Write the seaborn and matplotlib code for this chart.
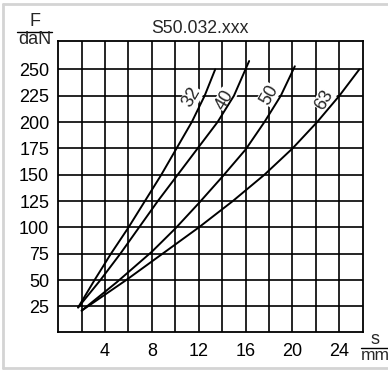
import pandas as pd
import matplotlib
matplotlib.use("Agg")
import matplotlib.pyplot as plt
import seaborn as sns
from matplotlib.lines import Line2D

# ---- data (stroke s in mm, force F in daN) ----
s_32 = [1.7, 3.1, 4.5, 6.0, 7.4, 8.8, 10.1, 11.4, 12.5, 13.4]
f_32 = [24, 50, 75, 100, 125, 150, 175, 200, 225, 250]

s_40 = [1.7, 3.6, 5.3, 6.9, 8.5, 10.2, 11.9, 13.6, 15.0, 16.3]
f_40 = [24, 50, 75, 100, 125, 150, 175, 200, 225, 258]

s_50 = [2.0, 5.0, 8.0, 10.0, 12.0, 14.0, 16.0, 17.6, 19.0, 20.2]
f_50 = [21, 48, 77, 99, 123, 148, 174, 200, 225, 253]

s_63 = [2.0, 5.8, 8.9, 12.0, 14.9, 17.6, 20.0, 22.1, 24.0, 25.7]
f_63 = [21, 50, 75, 100, 125, 150, 175, 200, 225, 250]

sizes = ["32", "40", "50", "63"]
# where each curve label sits (s, F)
label_s = [11.4, 14.2, 18.0, 22.7]
label_f = [224, 221, 226, 221]

x_ticks = [4, 8, 12, 16, 20, 24]
y_ticks = [25, 50, 75, 100, 125, 150, 175, 200, 225, 250]
x_grid = list(range(2, 26, 2))

title = "S50.032.xxx"

# ---- long-form table for seaborn ----
frames = []
for name, s, f in zip(sizes, [s_32, s_40, s_50, s_63], [f_32, f_40, f_50, f_63]):
    frames.append(pd.DataFrame({"s": s, "F": f, "size": name}))
df = pd.concat(frames, ignore_index=True)

sns.set_style("white")
plt.rcParams["font.family"] = ["Liberation Sans", "DejaVu Sans"]

fig = plt.figure(figsize=(3.88, 3.72), dpi=100)
ax = fig.add_axes([0.150, 0.1083, 0.785, 0.7815])

# grid first, so curves sit on top
for x in x_grid:
    ax.axvline(x, color="black", lw=1.2, zorder=1)
for y in y_ticks:
    ax.axhline(y, color="black", lw=1.2, zorder=1)

sns.lineplot(data=df, x="s", y="F", hue="size", units="size", estimator=None,
             sort=False, palette=["black"] * 4, lw=1.4, legend=False, ax=ax, zorder=3)

for name, s, f in zip(sizes, label_s, label_f):
    ax.text(s, f, name, rotation=60, ha="center", va="center", fontsize=13,
            bbox=dict(facecolor="white", edgecolor="none", pad=0.3), zorder=2)

ax.set_xlim(0, 26)
ax.set_ylim(1, 277)
ax.set_xticks(x_ticks)
ax.set_yticks(y_ticks)
ax.tick_params(axis="both", direction="out", length=5, width=1.1, colors="black",
               labelsize=13, pad=1.5)
ax.tick_params(axis="x", pad=3)
ax.set_xlabel("")
ax.set_ylabel("")
for sp in ax.spines.values():
    sp.set_color("black")
    sp.set_linewidth(1.3)
    sp.set_visible(True)

ax.text(0.466, 1.042, title, transform=ax.transAxes, ha="center", va="center",
        fontsize=12.7)

# unit fractions F/daN and s/mm
fig.text(35 / 388, 1 - 22 / 372, "F", ha="center", va="center", fontsize=13)
fig.text(35 / 388, 1 - 40 / 372, "daN", ha="center", va="center", fontsize=13)
fig.add_artist(Line2D([17 / 388, 52 / 388], [1 - 31.5 / 372] * 2, color="black", lw=1.0))
fig.text(375 / 388, 1 - 339 / 372, "s", ha="center", va="center", fontsize=13)
fig.text(375 / 388, 1 - 355 / 372, "mm", ha="center", va="center", fontsize=12.5)
fig.add_artist(Line2D([361 / 388, 1.0], [1 - 347.5 / 372] * 2, color="black", lw=1.0))

# light frame around the picture
frame = dict(color="#d4d4d4", lw=2)
fig.add_artist(Line2D([3 / 388, 1.0], [1 - 4 / 372] * 2, **frame))
fig.add_artist(Line2D([3 / 388] * 2, [1 - 4 / 372, 1 - 368 / 372], **frame))
fig.add_artist(Line2D([3 / 388, 1.0], [1 - 368 / 372] * 2, **frame))

fig.savefig("out.png", dpi=100)
